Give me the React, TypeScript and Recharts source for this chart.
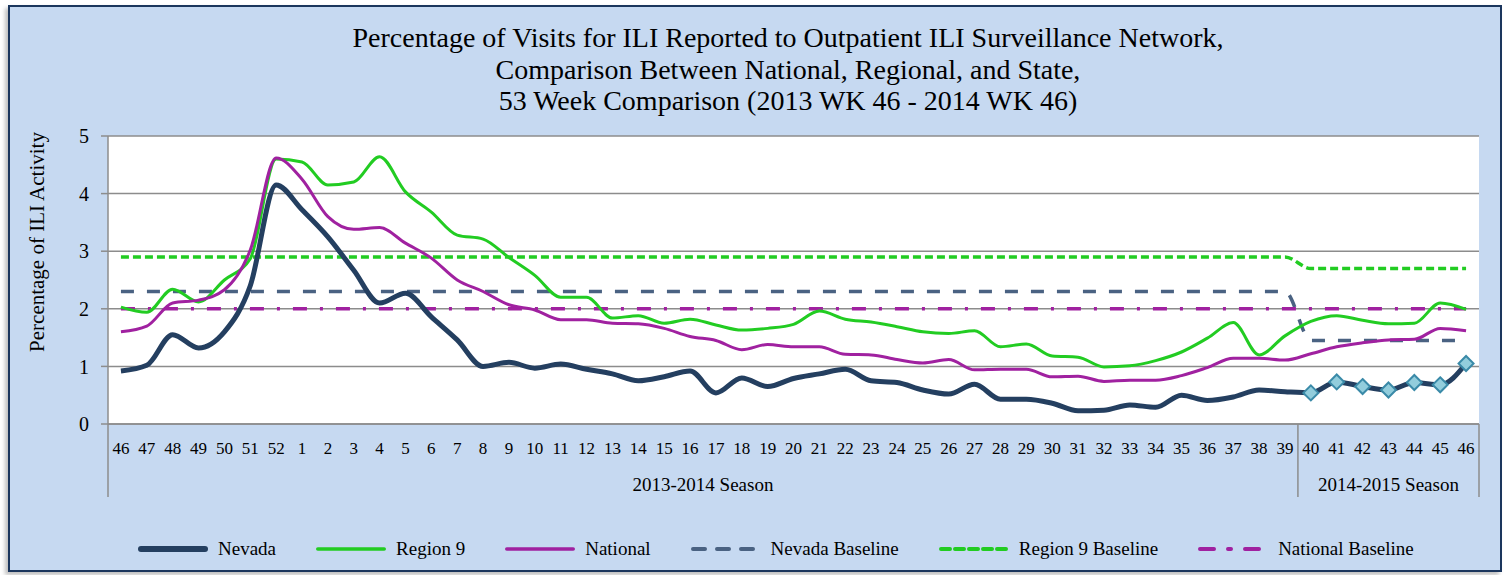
import React from 'react';
import { LineChart, Line, XAxis, YAxis, CartesianGrid, Legend } from 'recharts';

// week labels, 2013 WK 46 .. 2014 WK 46
const weeks = [
  '46', '47', '48', '49', '50', '51', '52',
  '1', '2', '3', '4', '5', '6', '7', '8', '9', '10', '11', '12', '13',
  '14', '15', '16', '17', '18', '19', '20', '21', '22', '23', '24', '25', '26',
  '27', '28', '29', '30', '31', '32', '33', '34', '35', '36', '37', '38', '39',
  '40', '41', '42', '43', '44', '45', '46',
];

const seasons = [
  { label: '2013-2014 Season', start: 0, end: 45 },
  { label: '2014-2015 Season', start: 46, end: 52 },
];

const nevada = [
  0.92, 1.02, 1.55, 1.32, 1.6, 2.4, 4.15,
  3.72, 3.25, 2.67, 2.1, 2.27, 1.86, 1.46, 1.0, 1.07, 0.97, 1.04, 0.95, 0.87,
  0.75, 0.82, 0.92, 0.54, 0.8, 0.65, 0.79, 0.87, 0.95, 0.75, 0.72, 0.59, 0.52,
  0.69, 0.43, 0.43, 0.36, 0.23, 0.24, 0.33, 0.29, 0.5, 0.41, 0.47, 0.59, 0.56,
  0.54, 0.73, 0.65, 0.59, 0.72, 0.68, 1.05,
];

const region9 = [
  2.03, 1.94, 2.34, 2.12, 2.5, 2.87, 4.6,
  4.55, 4.15, 4.2, 4.64, 4.03, 3.68, 3.28, 3.21, 2.89, 2.58, 2.2, 2.2, 1.84,
  1.88, 1.75, 1.82, 1.72, 1.63, 1.66, 1.73, 1.96, 1.82, 1.77, 1.69, 1.6, 1.57,
  1.62, 1.34, 1.39, 1.18, 1.16, 0.99, 1.01, 1.1, 1.25, 1.49, 1.76, 1.2, 1.53,
  1.78, 1.88, 1.8, 1.74, 1.75, 2.1, 1.99,
];

const national = [
  1.6, 1.7, 2.1, 2.15, 2.33, 3.02, 4.62,
  4.25, 3.6, 3.38, 3.41, 3.14, 2.88, 2.5, 2.3, 2.07, 1.98, 1.81, 1.81, 1.75,
  1.74, 1.66, 1.52, 1.45, 1.29, 1.38, 1.34, 1.34, 1.21, 1.2, 1.12, 1.06, 1.12,
  0.94, 0.95, 0.95, 0.82, 0.83, 0.74, 0.76, 0.76, 0.84, 0.98, 1.14, 1.14, 1.11,
  1.22, 1.34, 1.41, 1.46, 1.47, 1.66, 1.62,
];

const nevadaBaseline = [
  2.3, 2.3, 2.3, 2.3, 2.3, 2.3, 2.3,
  2.3, 2.3, 2.3, 2.3, 2.3, 2.3, 2.3, 2.3, 2.3, 2.3, 2.3, 2.3, 2.3,
  2.3, 2.3, 2.3, 2.3, 2.3, 2.3, 2.3, 2.3, 2.3, 2.3, 2.3, 2.3, 2.3,
  2.3, 2.3, 2.3, 2.3, 2.3, 2.3, 2.3, 2.3, 2.3, 2.3, 2.3, 2.3, 2.3,
  1.45, 1.45, 1.45, 1.45, 1.45, 1.45, 1.45,
];

const region9Baseline = [
  2.9, 2.9, 2.9, 2.9, 2.9, 2.9, 2.9,
  2.9, 2.9, 2.9, 2.9, 2.9, 2.9, 2.9, 2.9, 2.9, 2.9, 2.9, 2.9, 2.9,
  2.9, 2.9, 2.9, 2.9, 2.9, 2.9, 2.9, 2.9, 2.9, 2.9, 2.9, 2.9, 2.9,
  2.9, 2.9, 2.9, 2.9, 2.9, 2.9, 2.9, 2.9, 2.9, 2.9, 2.9, 2.9, 2.9,
  2.7, 2.7, 2.7, 2.7, 2.7, 2.7, 2.7,
];

const nationalBaseline = [
  2.0, 2.0, 2.0, 2.0, 2.0, 2.0, 2.0,
  2.0, 2.0, 2.0, 2.0, 2.0, 2.0, 2.0, 2.0, 2.0, 2.0, 2.0, 2.0, 2.0,
  2.0, 2.0, 2.0, 2.0, 2.0, 2.0, 2.0, 2.0, 2.0, 2.0, 2.0, 2.0, 2.0,
  2.0, 2.0, 2.0, 2.0, 2.0, 2.0, 2.0, 2.0, 2.0, 2.0, 2.0, 2.0, 2.0,
  2.0, 2.0, 2.0, 2.0, 2.0, 2.0, 2.0,
];

const yTicks = [0, 1, 2, 3, 4, 5];

const data = weeks.map((week, i) => ({
  week,
  nevada: nevada[i],
  region9: region9[i],
  national: national[i],
  nevadaBaseline: nevadaBaseline[i],
  region9Baseline: region9Baseline[i],
  nationalBaseline: nationalBaseline[i],
}));

const FONT = '"Liberation Serif", "Times New Roman", serif';
const W = 1506;
const H = 575;
const PLOT_LEFT = 108;
const PLOT_RIGHT = 1479;
const PLOT_TOP = 136;
const PLOT_BOTTOM = 424;
const BAND = (PLOT_RIGHT - PLOT_LEFT) / weeks.length;
const GRID = '#8c8c8c';

const NAVY = '#243f60';
const GREEN = '#22cc22';
const PURPLE = '#a021a0';
const SLATE = '#4a6282';

const legendItems = [
  { name: 'Nevada', color: NAVY, width: 6, dash: undefined },
  { name: 'Region 9', color: GREEN, width: 3.5, dash: undefined },
  { name: 'National', color: PURPLE, width: 3.5, dash: undefined },
  { name: 'Nevada Baseline', color: SLATE, width: 4, dash: '12 12' },
  { name: 'Region 9 Baseline', color: GREEN, width: 4, dash: '9 5' },
  { name: 'National Baseline', color: PURPLE, width: 4, dash: '14 14 3 14' },
];

function WeekTick(props: any) {
  const { x, payload } = props;
  const i = props.index ?? payload.index;
  const season = seasons.find((s) => s.start === i);
  const left = x - BAND / 2;
  return (
    <g>
      <text x={x} y={448} textAnchor="middle" dominantBaseline="central"
        style={{ fontFamily: FONT, fontSize: 17, fill: '#000' }}>
        {payload.value}
      </text>
      {season && (
        <>
          <line x1={left} x2={left} y1={PLOT_BOTTOM} y2={497} stroke={GRID} strokeWidth={1.5} />
          <text x={left + ((season.end - season.start + 1) * BAND) / 2} y={484}
            textAnchor="middle" dominantBaseline="central"
            style={{ fontFamily: FONT, fontSize: 19, fill: '#000' }}>
            {season.label}
          </text>
        </>
      )}
      {i === weeks.length - 1 && (
        <line x1={x + BAND / 2} x2={x + BAND / 2} y1={PLOT_BOTTOM} y2={497} stroke={GRID} strokeWidth={1.5} />
      )}
    </g>
  );
}

function NevadaDot(props: any) {
  const { cx, cy, index } = props;
  if (index < seasons[1].start || cx == null || cy == null) return <g key={`d-${index}`} />;
  const r = 7.5;
  return (
    <path key={`d-${index}`}
      d={`M${cx},${cy - r} L${cx + r},${cy} L${cx},${cy + r} L${cx - r},${cy} Z`}
      fill="#92cddc" stroke="#3a8aa8" strokeWidth={2} />
  );
}

function LegendContent() {
  return (
    <div style={{ display: 'flex', alignItems: 'center', height: 26, fontFamily: FONT, fontSize: 19, color: '#000' }}>
      {legendItems.map((it) => (
        <div key={it.name} style={{ display: 'flex', alignItems: 'center', marginRight: 40, whiteSpace: 'nowrap' }}>
          <svg width={70} height={10} style={{ marginRight: 10 }}>
            <line x1={it.width / 2} x2={70 - it.width / 2} y1={5} y2={5} stroke={it.color}
              strokeWidth={it.width} strokeDasharray={it.dash} strokeLinecap="round" />
          </svg>
          <span>{it.name}</span>
        </div>
      ))}
    </div>
  );
}

export default function App() {
  return (
    <div style={{ position: 'absolute', left: 0, top: 0, width: W, height: H, background: '#fff' }}>
      <div style={{
        position: 'absolute', left: 8, top: 5, width: 1494, height: 567, boxSizing: 'border-box',
        background: '#c6d9f1', border: '2px solid #1b365d', boxShadow: '-3px 3px 4px rgba(0,0,0,0.25)',
      }} />
      <div style={{ position: 'absolute', left: 0, top: 0 }}>
        <LineChart width={W} height={H} data={data}
          margin={{ top: PLOT_TOP, right: W - PLOT_RIGHT, left: 0, bottom: H - PLOT_BOTTOM - 73 }}>
          <CartesianGrid vertical={false} stroke={GRID} strokeWidth={1.5} fill="#fff" fillOpacity={1} />
          <XAxis dataKey="week" interval={0} height={73} tickLine={false}
            padding={{ left: BAND / 2, right: BAND / 2 }}
            axisLine={{ stroke: GRID, strokeWidth: 1.5 }} tick={<WeekTick />} />
          <YAxis width={PLOT_LEFT} domain={[0, 5]} ticks={yTicks} tickSize={7} tickMargin={12}
            axisLine={{ stroke: GRID, strokeWidth: 1.5 }} tickLine={{ stroke: GRID, strokeWidth: 1.5 }}
            tick={{ fontFamily: FONT, fontSize: 20, fill: '#000' }} />
          <Legend layout="horizontal" verticalAlign="middle" align="center"
            wrapperStyle={{ top: 536, left: 138, width: 1330 }} content={<LegendContent />} />
          <Line type="monotone" dataKey="nevadaBaseline" name="Nevada Baseline" stroke={SLATE}
            strokeWidth={3.5} strokeDasharray="13 13" dot={false} isAnimationActive={false} />
          <Line type="monotone" dataKey="region9Baseline" name="Region 9 Baseline" stroke={GREEN}
            strokeWidth={3.5} strokeDasharray="8 4" dot={false} isAnimationActive={false} />
          <Line type="monotone" dataKey="nationalBaseline" name="National Baseline" stroke={PURPLE}
            strokeWidth={3.5} strokeDasharray="14 13 3 13" dot={false} isAnimationActive={false} />
          <Line type="monotone" dataKey="region9" name="Region 9" stroke={GREEN}
            strokeWidth={3} dot={false} isAnimationActive={false} />
          <Line type="monotone" dataKey="national" name="National" stroke={PURPLE}
            strokeWidth={3} dot={false} isAnimationActive={false} />
          <Line type="monotone" dataKey="nevada" name="Nevada" stroke={NAVY}
            strokeWidth={5} dot={<NevadaDot />} activeDot={false} isAnimationActive={false} />
        </LineChart>
      </div>
      <div style={{
        position: 'absolute', left: 288, top: 22, width: 1000, textAlign: 'center',
        fontFamily: FONT, fontSize: 28, lineHeight: '31.5px', color: '#000',
      }}>
        <div>Percentage of Visits for ILI Reported to Outpatient ILI Surveillance Network,</div>
        <div>Comparison Between National, Regional, and State,</div>
        <div>53 Week Comparison (2013 WK 46 - 2014 WK 46)</div>
      </div>
      <div style={{
        position: 'absolute', left: 37, top: 242, transform: 'translate(-50%, -50%) rotate(-90deg)',
        whiteSpace: 'nowrap', fontFamily: FONT, fontSize: 21, color: '#000',
      }}>
        Percentage of ILI Activity
      </div>
    </div>
  );
}
